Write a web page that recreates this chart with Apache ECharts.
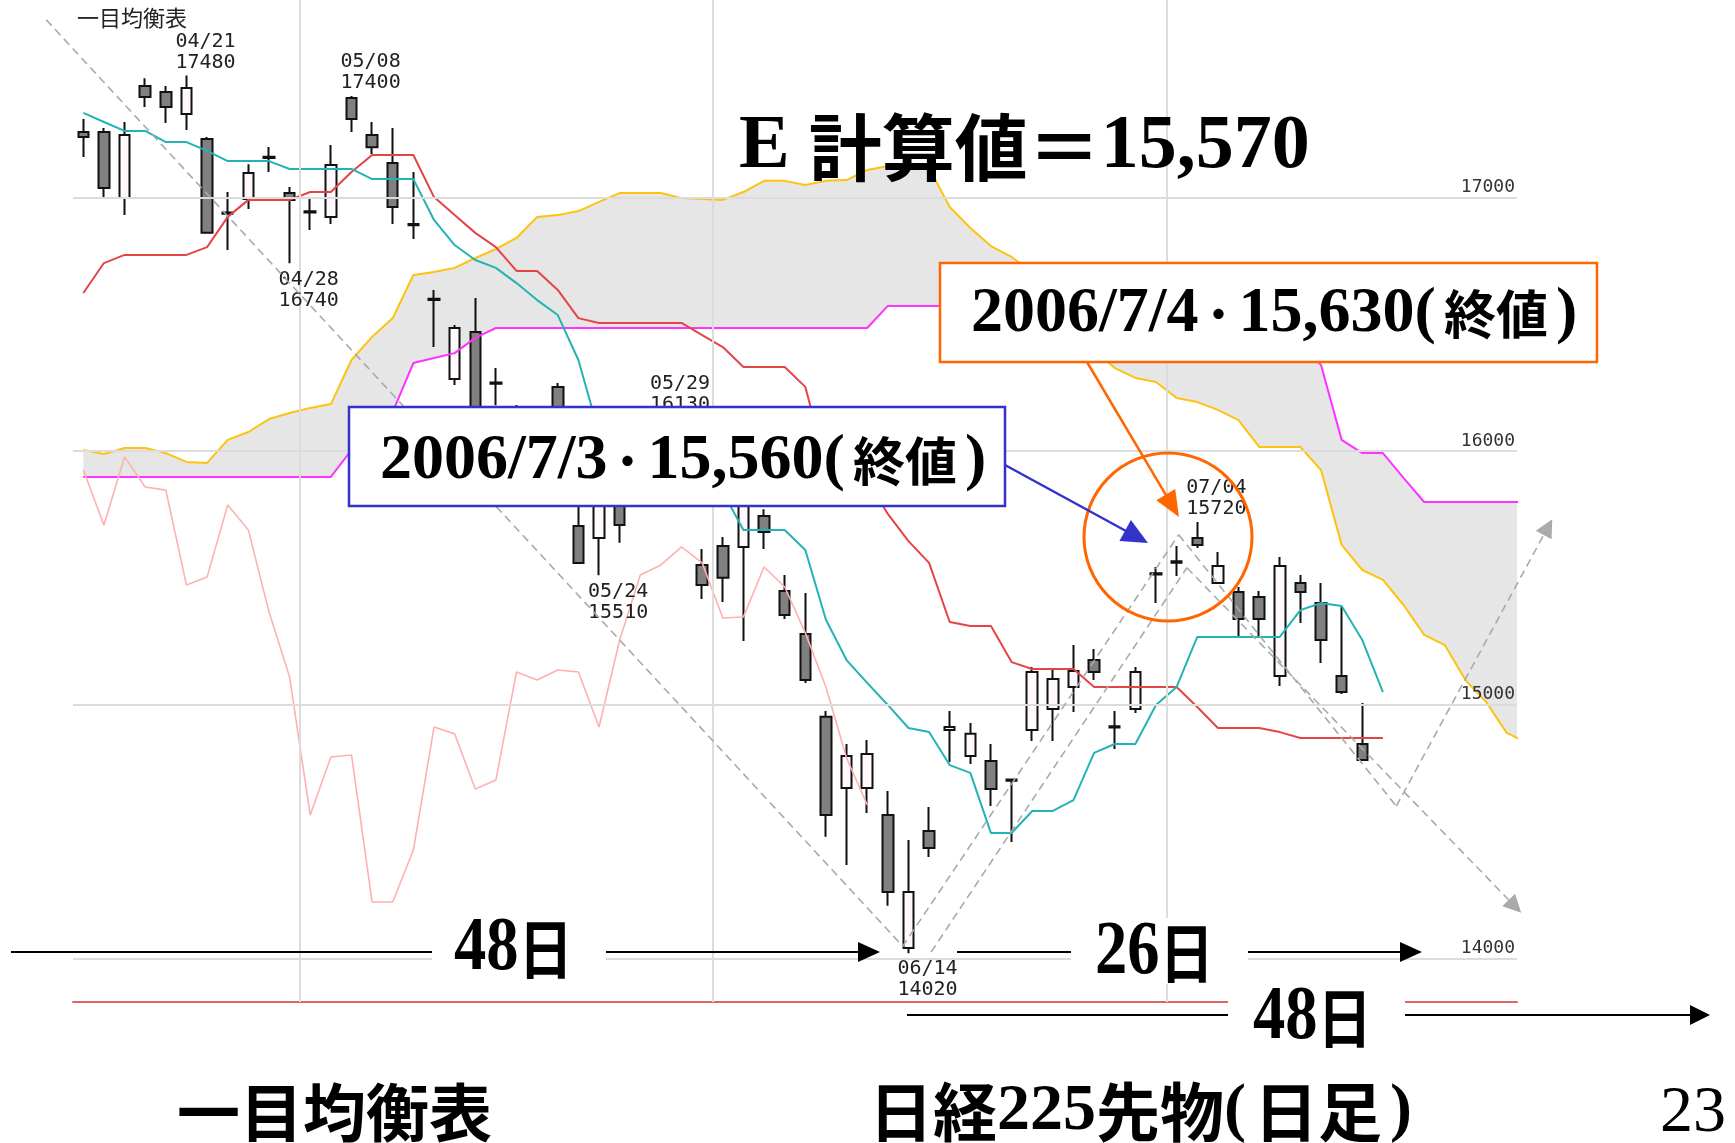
<!DOCTYPE html>
<html>
<head>
<meta charset="utf-8">
<script src="https://cdn.jsdelivr.net/npm/echarts@6/dist/echarts.min.js"></script>
<style>
html, body { margin: 0; padding: 0; background: #fff; }
#chart { width: 1735px; height: 1143px; }
</style>
</head>
<body>
<div id="chart"></div>
<script>
// trading days (63 candles) + future slots for the cloud
const dates = [
  "04/14", "04/17", "04/18", "04/19", "04/20", "04/21", "04/24", "04/25", "04/26", "04/27",
  "04/28", "05/01", "05/02", "05/08", "05/09", "05/10", "05/11", "05/12", "05/15", "05/16",
  "05/17", "05/18", "05/19", "05/22", "05/23", "05/24", "05/25", "05/26", "05/29", "05/30",
  "05/31", "06/01", "06/02", "06/05", "06/06", "06/07", "06/08", "06/09", "06/12", "06/13",
  "06/14", "06/15", "06/16", "06/19", "06/20", "06/21", "06/22", "06/23", "06/26", "06/27",
  "06/28", "06/29", "06/30", "07/03", "07/04", "07/05", "07/06", "07/07", "07/10", "07/11",
  "07/12", "07/13", "07/14", "07/18", "07/19", "07/20", "07/21", "07/24", "07/25", "07/26",
  "07/27"
];

// [open, close, low, high]
const ohlc = [
  [17258, 17238, 17159, 17309], [17258, 17037, 17001, 17273], [16997, 17246, 16930, 17297],
  [17439, 17396, 17356, 17470], [17415, 17356, 17293, 17439], [17329, 17431, 17266, 17480],
  [17230, 16860, 16858, 17238], [16940, 16935, 16792, 17021], [16994, 17096, 16954, 17131],
  [17160, 17155, 17100, 17199], [17017, 16990, 16740, 17041], [16945, 16940, 16871, 16997],
  [16923, 17128, 16895, 17206], [17392, 17309, 17258, 17400], [17246, 17198, 17171, 17297],
  [17135, 16962, 16895, 17273], [16895, 16890, 16836, 17100], [16600, 16595, 16410, 16635],
  [16284, 16485, 16260, 16497], [16469, 16060, 16000, 16603], [16270, 16265, 16180, 16327],
  [16150, 16050, 15990, 16181], [16010, 16120, 15950, 16175], [16252, 15950, 15900, 16268],
  [15704, 15559, 15555, 15850], [15657, 15925, 15510, 15960], [15830, 15708, 15638, 15870],
  [15800, 15977, 15790, 16010], [15990, 15858, 15820, 16130], [15880, 15846, 15800, 15950],
  [15551, 15472, 15417, 15614], [15626, 15500, 15405, 15661], [15622, 15787, 15251, 15800],
  [15744, 15681, 15614, 15770], [15448, 15354, 15338, 15511], [15279, 15097, 15086, 15440],
  [14952, 14565, 14479, 14975], [14672, 14798, 14368, 14845], [14672, 14806, 14573, 14861],
  [14565, 14262, 14207, 14660], [14041, 14262, 14020, 14467], [14502, 14435, 14400, 14597],
  [14900, 14912, 14774, 14975], [14798, 14885, 14766, 14928], [14778, 14668, 14601, 14845],
  [14705, 14700, 14459, 14705], [14900, 15129, 14857, 15149], [14983, 15101, 14857, 15137],
  [15070, 15133, 14971, 15235], [15176, 15129, 15097, 15220], [14915, 14910, 14825, 14975],
  [14983, 15129, 14967, 15149], [15518, 15513, 15401, 15543], [15565, 15560, 15507, 15626],
  [15657, 15630, 15618, 15720], [15480, 15547, 15480, 15602], [15444, 15338, 15271, 15464],
  [15425, 15338, 15271, 15448], [15113, 15547, 15074, 15582], [15480, 15444, 15322, 15511],
  [15401, 15255, 15164, 15480], [15113, 15050, 15042, 15385], [14845, 14782, 14780, 15007]
];

const tenkan = [
  17333, 17297, 17262, 17262, 17218, 17218, 17183, 17143, 17143, 17143,
  17112, 17112, 17112, 17112, 17072, 17072, 17072, 16911, 16812, 16753,
  16722, 16662, 16595, 16536, 16359, 16071, 16055, 16055, 15917, 15846,
  15842, 15839, 15689, 15689, 15689, 15610, 15335, 15176, 15086, 14999,
  14908, 14892, 14762, 14731, 14494, 14494, 14581, 14581, 14624, 14810,
  14845, 14845, 14999, 15070, 15267, 15267, 15267, 15267, 15267, 15373,
  15401, 15389, 15255, 15050
];

const kijun = [
  16623, 16741, 16773, 16773, 16773, 16773, 16804, 16923, 16990, 16990,
  16990, 17021, 17021, 17100, 17167, 17167, 17167, 17001, 16930, 16860,
  16804, 16710, 16710, 16635, 16524, 16505, 16505, 16505, 16505, 16505,
  16457, 16410, 16331, 16331, 16331, 16253, 15941, 15886, 15886, 15752,
  15645, 15559, 15326, 15310, 15310, 15168, 15141, 15141, 15141, 15070,
  15070, 15070, 15070, 15070, 14991, 14908, 14908, 14908, 14892, 14869,
  14869, 14869, 14869, 14869
];

const senkouA = [
  16004, 15988, 16012, 16012, 15992, 15957, 15953, 16044, 16075, 16126,
  16150, 16170, 16185, 16359, 16450, 16524, 16694, 16706, 16722, 16761,
  16796, 16840, 16923, 16930, 16946, 16982, 17017, 17017, 17017, 16997,
  16994, 16990, 17021, 17065, 17065, 17049, 17065, 17068, 17108, 17124,
  17124, 17116, 16962, 16879, 16808, 16765, 16706, 16635, 16517, 16398,
  16327, 16288, 16272, 16209, 16193, 16162, 16122, 16016, 16016, 16016,
  15925, 15630, 15531, 15492, 15393, 15275, 15235, 15097, 15011, 14889,
  14850
];

const senkouB = [
  15898, 15898, 15898, 15898, 15898, 15898, 15898, 15898, 15898, 15898,
  15898, 15898, 15898, 16004, 16083, 16154, 16347, 16367, 16386, 16446,
  16485, 16485, 16485, 16485, 16485, 16485, 16485, 16485, 16485, 16485,
  16485, 16485, 16485, 16485, 16485, 16485, 16485, 16485, 16485, 16572,
  16572, 16572, 16572, 16572, 16572, 16572, 16572, 16572, 16572, 16572,
  16572, 16572, 16572, 16572, 16572, 16572, 16572, 16572, 16517, 16438,
  16339, 16044, 15992, 15992, 15894, 15799, 15799, 15799, 15799, 15799,
  15799
];

const chikou = [
  15925, 15708, 15977, 15858, 15846, 15472, 15503, 15787, 15689, 15366,
  15109, 14565, 14794, 14802, 14222, 14222, 14427, 14912, 14885, 14668,
  14703, 15129, 15097, 15137, 15129, 14912, 15255, 15511, 15551, 15622,
  15559, 15342, 15346, 15543, 15464, 15283, 15070, 14790, 14605
];

const priceTicks = [14000, 15000, 16000, 17000];
const monthStarts = [11, 31, 53];   // first trading day of May, June, July
const peakMarks = [[5, "high"], [10, "low"], [13, "high"], [25, "low"], [28, "high"], [40, "low"], [54, "high"]];

// N-wave guide lines, in (day index, price)
const trendLines = [
  { from: [-1.8, 17700], to: [39.7, 14050], arrow: false },
  { from: [39.7, 14045], to: [53.1, 15670], arrow: false },
  { from: [41.1, 14025], to: [53.5, 15540], arrow: false },
  { from: [53.1, 15670], to: [63.65, 14600], arrow: false },
  { from: [53.5, 15540], to: [69.4, 14205], arrow: true },
  { from: [63.65, 14600], to: [71.0, 15700], arrow: true }
];

const SERIF = "Liberation Serif";
const CJK = "Noto Sans CJK JP";
const MONO = "DejaVu Sans Mono";

const cloudLow = senkouA.map((a, i) => Math.min(a, senkouB[i]));
const cloudBand = senkouA.map((a, i) => Math.abs(a - senkouB[i]));

function arrowHead(x1, y1, x2, y2, len, half) {
  const dx = x2 - x1, dy = y2 - y1, d = Math.hypot(dx, dy);
  const ux = dx / d, uy = dy / d;
  const bx = x2 - ux * len, by = y2 - uy * len;
  return [[x2, y2], [bx - uy * half, by + ux * half], [bx + uy * half, by - ux * half]];
}

function arrow(x1, y1, x2, y2, color, width, len, half) {
  const d = Math.hypot(x2 - x1, y2 - y1);
  const ex = x2 - (x2 - x1) / d * (len - 2), ey = y2 - (y2 - y1) / d * (len - 2);
  return [
    { type: "line", z: 102, shape: { x1: x1, y1: y1, x2: ex, y2: ey }, style: { stroke: color, lineWidth: width } },
    { type: "polygon", z: 102, shape: { points: arrowHead(x1, y1, x2, y2, len, half) }, style: { fill: color } }
  ];
}

const boxRich = {
  d: { fontFamily: SERIF, fontWeight: "bold", fontSize: 64, fill: "#000", verticalAlign: "middle" },
  m: { fontFamily: CJK, fontWeight: "bold", fontSize: 40, fill: "#000", verticalAlign: "middle" },
  k: { fontFamily: CJK, fontWeight: "bold", fontSize: 52, fill: "#000", padding: [0, 8], verticalAlign: "middle" }
};
const bigRich = {
  d: { fontFamily: SERIF, fontWeight: "bold", fontSize: 76, fill: "#000", verticalAlign: "middle" },
  k: { fontFamily: CJK, fontWeight: "bold", fontSize: 64, fill: "#000", verticalAlign: "middle" }
};
const footRich = {
  d: { fontFamily: SERIF, fontWeight: "bold", fontSize: 66, fill: "#000", verticalAlign: "middle" },
  k: { fontFamily: CJK, fontWeight: "bold", fontSize: 64, fill: "#000", verticalAlign: "middle" },
  p: { fontFamily: CJK, fontWeight: "bold", fontSize: 64, fill: "#000", padding: [0, 8], verticalAlign: "middle" }
};

const graphics = [
  { type: "text", x: 77, y: 18, z: 101, style: { text: "一目均衡表", fontFamily: CJK, fontSize: 22, fill: "#222", verticalAlign: "middle" } },
  {
    type: "text", x: 739, y: 147, z: 101,
    style: {
      text: "{s|E }{k|計算値＝}{s|15,570}", verticalAlign: "middle",
      rich: {
        s: { fontFamily: SERIF, fontWeight: "bold", fontSize: 76, fill: "#000", verticalAlign: "middle" },
        k: { fontFamily: CJK, fontWeight: "bold", fontSize: 73, fill: "#000", verticalAlign: "middle" }
      }
    }
  },
  // callout boxes
  { type: "rect", z: 100, shape: { x: 940, y: 263, width: 657, height: 99 }, style: { fill: "#fff", stroke: "#ff6600", lineWidth: 2.5 } },
  { type: "text", x: 971, y: 314, z: 101, style: { text: "{d|2006/7/4}{m|・}{d|15,630(}{k|終値}{d|)}", verticalAlign: "middle", rich: boxRich } },
  { type: "rect", z: 100, shape: { x: 349, y: 407, width: 656, height: 99 }, style: { fill: "#fff", stroke: "#3333cc", lineWidth: 2.5 } },
  { type: "text", x: 380, y: 461, z: 101, style: { text: "{d|2006/7/3}{m|・}{d|15,560(}{k|終値}{d|)}", verticalAlign: "middle", rich: boxRich } },
  { type: "circle", z: 100, shape: { cx: 1168, cy: 537, r: 84 }, style: { fill: null, stroke: "#ff6600", lineWidth: 3 } },
  // white pads behind the day counts
  { type: "rect", z: 100, shape: { x: 432, y: 918, width: 174, height: 66 }, style: { fill: "#fff" } },
  { type: "rect", z: 100, shape: { x: 1071, y: 918, width: 177, height: 66 }, style: { fill: "#fff" } },
  { type: "rect", z: 100, shape: { x: 1228, y: 985, width: 177, height: 66 }, style: { fill: "#fff" } },
  { type: "text", x: 454, y: 949, z: 101, scaleX: 0.85, style: { text: "{d|48}{k|日}", verticalAlign: "middle", rich: bigRich } },
  { type: "text", x: 1095, y: 953, z: 101, scaleX: 0.85, style: { text: "{d|26}{k|日}", verticalAlign: "middle", rich: bigRich } },
  { type: "text", x: 1253, y: 1018, z: 101, scaleX: 0.85, style: { text: "{d|48}{k|日}", verticalAlign: "middle", rich: bigRich } },
  { type: "line", z: 102, shape: { x1: 11, y1: 952, x2: 432, y2: 952 }, style: { stroke: "#000", lineWidth: 2 } },
  { type: "line", z: 102, shape: { x1: 957, y1: 952, x2: 1071, y2: 952 }, style: { stroke: "#000", lineWidth: 2 } },
  { type: "line", z: 102, shape: { x1: 907, y1: 1015, x2: 1228, y2: 1015 }, style: { stroke: "#000", lineWidth: 2 } },
  ...arrow(606, 952, 880, 952, "#000", 2, 22, 10),
  ...arrow(1248, 952, 1422, 952, "#000", 2, 22, 10),
  ...arrow(1405, 1015, 1710, 1015, "#000", 2, 20, 10),
  ...arrow(1087, 362, 1179, 517, "#ff6600", 2.5, 26, 11),
  ...arrow(1005, 465, 1148, 543, "#3333cc", 2.5, 26, 12),
  // footer
  { type: "text", x: 177, y: 1112, z: 101, style: { text: "一目均衡表", fontFamily: CJK, fontWeight: "bold", fontSize: 63, fill: "#000", verticalAlign: "middle" } },
  { type: "text", x: 869, y: 1112, z: 101, style: { text: "{k|日経}{d|225}{k|先物}{d|(}{p|日足}{d|)}", verticalAlign: "middle", rich: footRich } },
  { type: "text", x: 1726, y: 1114, z: 101, style: { text: "23", fontFamily: SERIF, fontSize: 66, fill: "#000", align: "right", verticalAlign: "middle" } }
];

const chart = echarts.init(document.getElementById("chart"));

const option = {
  backgroundColor: "#fff",
  animation: false,
  grid: { left: 73, top: 0, width: 1444, height: 1002 },
  xAxis: [
    {
      type: "category",
      data: dates,
      max: 69,
      boundaryGap: true,
      axisLine: { onZero: false, lineStyle: { color: "#e06666", width: 2 } },
      axisTick: { show: false },
      axisLabel: { show: false },
      splitLine: { show: false }
    },
    { type: "value", min: -0.5, max: 69.5, show: false }
  ],
  yAxis: { type: "value", min: 13828, max: 17778, show: false },
  series: [
    {
      name: "cloud-base", type: "line", data: cloudLow, stack: "cloud",
      symbol: "none", lineStyle: { width: 0, opacity: 0 }, z: 0, silent: true
    },
    {
      name: "cloud", type: "line", data: cloudBand, stack: "cloud",
      symbol: "none", lineStyle: { width: 0, opacity: 0 },
      areaStyle: { color: "#e6e6e6", opacity: 1 }, z: 0, silent: true
    },
    {
      name: "grid", type: "line", xAxisIndex: 1, data: [], z: 1,
      markLine: {
        silent: true, symbol: "none", animation: false,
        lineStyle: { color: "#dcdcdc", width: 2, type: "solid" },
        label: {
          show: true, position: "insideEndTop", formatter: "{c}", distance: [2, 1],
          fontFamily: MONO, fontSize: 18, color: "#333"
        },
        data: priceTicks.map((v) => ({ yAxis: v }))
          .concat(monthStarts.map((i) => ({ xAxis: i - 0.5, label: { show: false } })))
      }
    },
    {
      name: "日経225先物", type: "candlestick", z: 3, barWidth: 11,
      data: ohlc,
      itemStyle: { color: "#fff8fc", color0: "#808080", borderColor: "#111", borderColor0: "#111", borderWidth: 2 },
      markPoint: {
        symbol: "circle", symbolSize: 1, silent: true,
        itemStyle: { color: "rgba(0,0,0,0)" },
        data: peakMarks.map(([i, kind]) => {
          const v = kind === "high" ? ohlc[i][3] : ohlc[i][2];
          return {
            coord: [dates[i], v],
            value: v,
            label: {
              show: true,
              position: kind === "high" ? "top" : "bottom",
              align: "left",
              offset: [-11, kind === "high" ? 3 : 0],
              formatter: dates[i] + "\n" + v,
              fontFamily: MONO, fontSize: 20, lineHeight: 21, color: "#222"
            }
          };
        })
      }
    },
    { name: "先行スパン1", type: "line", data: senkouA, symbol: "none", z: 4, lineStyle: { color: "#ffc20e", width: 2 } },
    { name: "先行スパン2", type: "line", data: senkouB, symbol: "none", z: 4, lineStyle: { color: "#ff33ff", width: 2 } },
    { name: "遅行スパン", type: "line", data: chikou, symbol: "none", z: 4, lineStyle: { color: "#ffb0b0", width: 1.6 } },
    { name: "基準線", type: "line", data: kijun, symbol: "none", z: 4, lineStyle: { color: "#e54444", width: 2 } },
    { name: "転換線", type: "line", data: tenkan, symbol: "none", z: 4, lineStyle: { color: "#22b4b4", width: 2 } },
    {
      type: "lines", coordinateSystem: "cartesian2d", xAxisIndex: 1, clip: false, z: 6, silent: true,
      symbol: "none",
      lineStyle: { color: "#aaa", width: 1.6, type: [8, 5], opacity: 1 },
      data: trendLines.filter((t) => !t.arrow).map((t) => ({ coords: [t.from, t.to] }))
    },
    {
      type: "lines", coordinateSystem: "cartesian2d", xAxisIndex: 1, clip: false, z: 6, silent: true,
      symbol: ["none", "triangle"], symbolSize: [0, 18],
      lineStyle: { color: "#aaa", width: 1.6, type: [8, 5], opacity: 1 },
      data: trendLines.filter((t) => t.arrow).map((t) => ({ coords: [t.from, t.to] }))
    }
  ],
  graphic: graphics
};

chart.setOption(option);
</script>
</body>
</html>
